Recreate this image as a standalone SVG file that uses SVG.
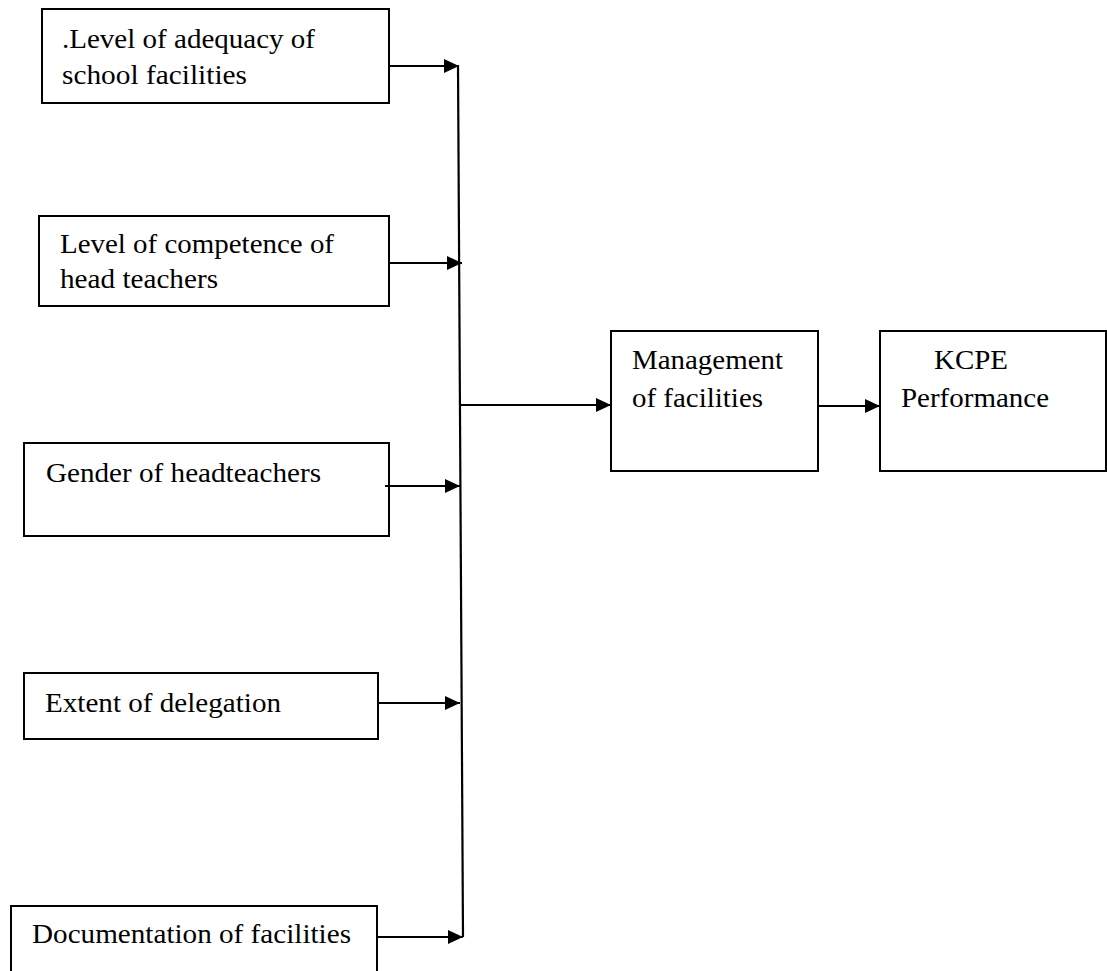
<svg xmlns="http://www.w3.org/2000/svg" width="1107" height="971" viewBox="0 0 1107 971">
<style>
.box{fill:#fff;stroke:#000;stroke-width:2}
.t{font-family:"Liberation Serif","Times New Roman",serif;font-size:28px;fill:#000}
.c{stroke:#000;stroke-width:2.2;fill:none}
</style>
<defs>
<marker id="ah" markerWidth="15" markerHeight="14" refX="15" refY="7" orient="auto" markerUnits="userSpaceOnUse">
<path d="M0,0 L15,7 L0,14 Z" fill="#000"/>
</marker>
</defs>
<rect width="1107" height="971" fill="#fff"/>
<g id="n1">
<rect class="box" x="42" y="9" width="347" height="94"/>
<text class="t" x="62" y="48" textLength="253" lengthAdjust="spacingAndGlyphs">.Level of adequacy of</text>
<text class="t" x="62" y="84" textLength="185" lengthAdjust="spacingAndGlyphs">school facilities</text>
</g>
<g id="n2">
<rect class="box" x="39" y="216" width="350" height="90"/>
<text class="t" x="60" y="253" textLength="274" lengthAdjust="spacingAndGlyphs">Level of competence of</text>
<text class="t" x="60" y="288" textLength="158" lengthAdjust="spacingAndGlyphs">head teachers</text>
</g>
<g id="n3">
<rect class="box" x="24" y="443" width="365" height="93"/>
<text class="t" x="46" y="482" textLength="275" lengthAdjust="spacingAndGlyphs">Gender of headteachers</text>
</g>
<g id="n4">
<rect class="box" x="24" y="673" width="354" height="66"/>
<text class="t" x="45" y="712" textLength="236" lengthAdjust="spacingAndGlyphs">Extent of delegation</text>
</g>
<g id="n5">
<rect class="box" x="11" y="906" width="366" height="70"/>
<text class="t" x="32" y="943" textLength="319" lengthAdjust="spacingAndGlyphs">Documentation of facilities</text>
</g>
<g id="n6">
<rect class="box" x="611" y="331" width="207" height="140"/>
<text class="t" x="632" y="369" textLength="151" lengthAdjust="spacingAndGlyphs">Management</text>
<text class="t" x="632" y="407" textLength="131" lengthAdjust="spacingAndGlyphs">of facilities</text>
</g>
<g id="n7">
<rect class="box" x="880" y="331" width="226" height="140"/>
<text class="t" x="934" y="369" textLength="74" lengthAdjust="spacingAndGlyphs">KCPE</text>
<text class="t" x="901" y="407" textLength="148" lengthAdjust="spacingAndGlyphs">Performance</text>
</g>
<g id="connectors">
<line class="c" x1="458" y1="65" x2="463" y2="937"/>
<line class="c" x1="389" y1="66" x2="459" y2="66" marker-end="url(#ah)"/>
<line class="c" x1="389" y1="263" x2="462" y2="263" marker-end="url(#ah)"/>
<line class="c" x1="385" y1="486" x2="460" y2="486" marker-end="url(#ah)"/>
<line class="c" x1="378" y1="703" x2="460" y2="703" marker-end="url(#ah)"/>
<line class="c" x1="377" y1="937" x2="463" y2="937" marker-end="url(#ah)"/>
<line class="c" x1="461" y1="405" x2="611" y2="405" marker-end="url(#ah)"/>
<line class="c" x1="818" y1="406" x2="880" y2="406" marker-end="url(#ah)"/>
</g>
</svg>
